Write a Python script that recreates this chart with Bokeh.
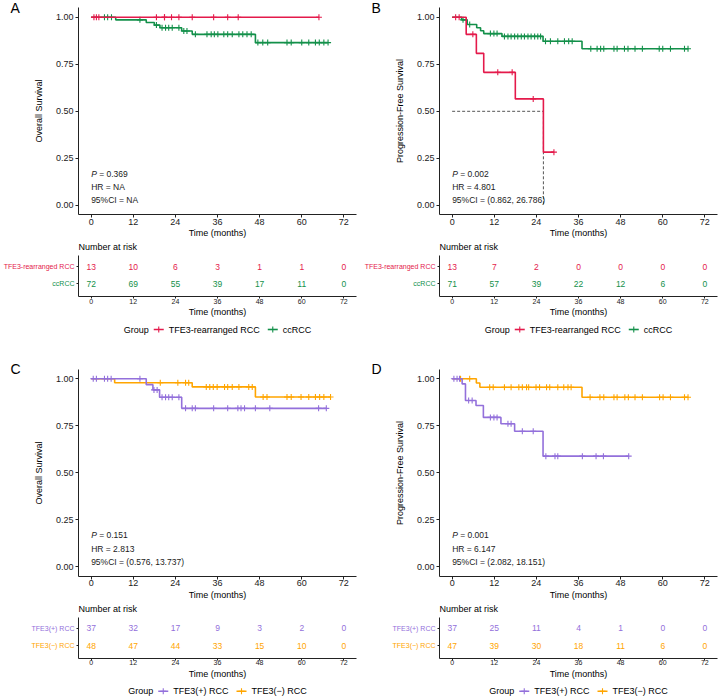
from bokeh.plotting import figure
from bokeh.models import Range1d, FixedTicker, PrintfTickFormatter
from bokeh.layouts import column, row
from bokeh.embed import file_html
from bokeh.resources import INLINE
from bokeh.core.properties import value

FONT = "Liberation Sans"
RED = "#E41A4B"
GREEN = "#13904A"
PURPLE = "#9370DB"
ORANGE = "#FFA500"

TIME_BREAKS = [0, 12, 24, 36, 48, 60, 72]
SURV_BREAKS = [0, 0.25, 0.5, 0.75, 1.0]

# ---------------- Panel A : Overall survival, TFE3-rearranged vs ccRCC
A_G1_NAME = "TFE3-rearranged RCC"
A_G1_EVT_T = []
A_G1_EVT_S = []
A_G1_END = 64.9
A_G1_CENS = [0.8, 1.5, 2.2, 18.6, 20.9, 20.9, 22.9, 25.0, 28.8, 34.9, 38.9, 41.9, 64.9]
A_G2_NAME = "ccRCC"
A_G2_EVT_T = [7.0, 15.7, 18.0, 19.6, 25.8, 28.8, 46.8]
A_G2_EVT_S = [0.986, 0.972, 0.958, 0.944, 0.927, 0.909, 0.865]
A_G2_END = 67.5
A_G2_CENS = [3.8, 4.7, 5.8, 13.9, 18.6, 20.2, 21.2, 22.1, 23.1, 25.0, 26.4, 27.3,
             29.7, 33.0, 34.2, 35.1, 36.1, 37.8, 38.9, 40.2, 42.1, 43.2, 44.4, 45.6,
             47.5, 48.9, 50.3, 55.8, 57.0, 60.0, 62.0, 63.9, 65.0, 66.3, 67.5]
A_RISK_G1 = [13, 10, 6, 3, 1, 1, 0]
A_RISK_G2 = [72, 69, 55, 39, 17, 11, 0]
A_STATS = ["= 0.369", "HR = NA", "95%CI = NA"]

# ---------------- Panel B : Progression-free survival
B_G1_EVT_T = [4.0, 6.9, 9.0, 18.0, 26.0]
B_G1_EVT_S = [0.909, 0.808, 0.707, 0.566, 0.283]
B_G1_END = 29.0
B_G1_CENS = [1.0, 2.0, 5.9, 13.0, 17.1, 23.1, 29.0]
B_G2_EVT_T = [2.7, 4.3, 7.0, 8.1, 9.0, 14.2, 25.9, 37.0]
B_G2_EVT_S = [0.986, 0.961, 0.944, 0.928, 0.913, 0.898, 0.872, 0.832]
B_G2_END = 67.3
B_G2_CENS = [3.1, 5.0, 10.9, 11.9, 12.8, 14.9, 15.9, 16.8, 17.8, 18.7, 19.7, 20.6,
             21.6, 22.5, 23.5, 24.4, 25.2, 26.6, 28.0, 30.1, 32.0, 33.2, 34.2, 39.5,
             41.3, 42.3, 43.2, 46.1, 47.0, 49.1, 50.1, 52.1, 54.2, 59.0, 60.0, 62.2,
             66.2, 67.2]
B_MEDIAN = 26.0
B_RISK_G1 = [13, 7, 2, 0, 0, 0, 0]
B_RISK_G2 = [71, 57, 39, 22, 12, 6, 0]
B_STATS = ["= 0.002", "HR = 4.801", "95%CI = (0.862, 26.786)"]

# ---------------- Panel C : Overall survival, TFE3(+) vs TFE3(-)
C_G1_NAME = "TFE3(+) RCC"
C_G1_EVT_T = [15.7, 17.6, 19.5, 25.8]
C_G1_EVT_S = [0.969, 0.941, 0.902, 0.843]
C_G1_END = 67.0
C_G1_CENS = [0.6, 1.5, 3.8, 4.7, 5.7, 13.9, 17.9, 18.8, 20.2, 21.2, 22.1, 23.1,
             25.0, 26.9, 28.8, 29.7, 34.9, 38.9, 41.8, 42.7, 43.7, 46.8, 50.9,
             64.8, 67.0]
C_G2_NAME = "TFE3(\u2212) RCC"
C_G2_EVT_T = [6.7, 28.8, 46.8]
C_G2_EVT_S = [0.979, 0.957, 0.903]
C_G2_END = 68.2
C_G2_CENS = [19.7, 24.7, 26.9, 27.8, 32.8, 33.8, 34.8, 35.9, 38.0, 38.9, 40.2,
             42.1, 44.9, 45.9, 49.0, 50.1, 55.8, 57.0, 59.8, 62.0, 63.9, 65.1,
             66.3, 68.2]
C_RISK_G1 = [37, 32, 17, 9, 3, 2, 0]
C_RISK_G2 = [48, 47, 44, 33, 15, 10, 0]
C_STATS = ["= 0.151", "HR = 2.813", "95%CI = (0.576, 13.737)"]

# ---------------- Panel D : Progression-free survival, TFE3(+) vs TFE3(-)
D_G1_EVT_T = [2.85, 3.8, 6.8, 8.9, 13.9, 17.8, 25.9]
D_G1_EVT_S = [0.973, 0.885, 0.858, 0.795, 0.761, 0.721, 0.589]
D_G1_END = 50.3
D_G1_CENS = [0.5, 1.4, 2.1, 4.7, 5.7, 10.9, 11.9, 12.8, 15.9, 16.8, 20.0, 23.1,
             26.7, 29.3, 30.1, 37.1, 41.0, 43.1, 50.3]
D_G2_EVT_T = [6.9, 7.9, 37.0]
D_G2_EVT_S = [0.978, 0.955, 0.902]
D_G2_END = 67.3
D_G2_CENS = [2.4, 5.0, 10.7, 11.7, 14.9, 16.8, 19.0, 20.0, 21.2, 21.8, 23.9, 24.9,
             26.9, 27.8, 30.1, 31.8, 33.0, 33.9, 39.3, 42.1, 43.2, 46.1, 47.0,
             49.2, 50.2, 52.1, 54.2, 59.1, 60.1, 62.2, 66.2, 67.2]
D_RISK_G1 = [37, 25, 11, 4, 1, 0, 0]
D_RISK_G2 = [47, 39, 30, 18, 11, 6, 0]
D_STATS = ["= 0.001", "HR = 6.147", "95%CI = (2.082, 18.151)"]

# ---------------- layout constants (pixels)
STATS_Y = [0.168, 0.097, 0.027]
X_LO, X_HI = -3.6, 75.6           # plotting area in months
Y_LO, Y_HI = -0.05, 1.05          # plotting area in survival
R_LO, R_HI = 0.27, 2.64           # risk table rows
PLOT_W = 278
KM_PLOT_H = 207
RISK_PLOT_H = 41
SX = PLOT_W / (X_HI - X_LO)
SY = KM_PLOT_H / (Y_HI - Y_LO)
SR = RISK_PLOT_H / (R_HI - R_LO)
TXT = "#1a1a1a"
AX = "#222222"
MARK = 6

CHAR_W = {" ": .278, "(": .333, ")": .333, "+": .584, "-": .333, "\u2212": .584,
          "A": .667, "C": .722, "E": .667, "F": .611, "G": .778, "R": .722,
          "T": .611, "a": .556, "c": .5, "d": .556, "e": .556, "g": .556,
          "n": .556, "o": .556, "p": .556, "r": .333, "u": .556}


def text_w(s, size):
    return sum(CHAR_W.get(ch, .556) for ch in s) * size


def col_geom(col):
    # figure width, left border, right border
    return (360, 78, 4) if col == 0 else (358, 79, 1)


def step_xy(ev_t, ev_s, end):
    xs = [0.0] + list(ev_t) + [end]
    last = ev_s[-1] if ev_s else 1.0
    ys = [1.0] + list(ev_s) + [last]
    return xs, ys


def surv_at(t, ev_t, ev_s):
    s = 1.0
    for tt, ss in zip(ev_t, ev_s):
        if tt <= t:
            s = ss
    return s


def base_fig(col, height, y_start, y_end):
    W, L, R = col_geom(col)
    p = figure(width=W, height=height,
               x_range=Range1d(X_LO - L / SX, X_HI + R / SX),
               y_range=Range1d(y_start, y_end),
               min_border_left=0, min_border_right=0, min_border_top=0,
               min_border_bottom=0, output_backend="svg",
               toolbar_location=None)
    p.outline_line_color = None
    p.xgrid.visible = False
    p.ygrid.visible = False
    p.background_fill_color = "white"
    p.border_fill_color = "white"
    for ax in (p.xaxis[0], p.yaxis[0]):
        ax.axis_line_color = AX
        ax.axis_line_width = 1
        ax.major_tick_line_color = AX
        ax.minor_tick_line_color = None
        ax.major_tick_in = 0
        ax.major_label_text_font = FONT
        ax.major_label_text_color = TXT
        ax.axis_label_text_font = FONT
        ax.axis_label_text_font_style = "normal"
        ax.axis_label_text_color = "black"
    p.xaxis.ticker = FixedTicker(ticks=TIME_BREAKS)
    p.xaxis.bounds = (X_LO, X_HI)
    p.yaxis.fixed_location = X_LO
    return p


def km_fig(col, H, top, letter, ylab, curves, stats, median=None):
    bottom = H - top - KM_PLOT_H
    p = base_fig(col, H, Y_LO - bottom / SY, Y_HI + top / SY)
    p.xaxis.fixed_location = Y_LO
    p.yaxis.bounds = (Y_LO, Y_HI)
    p.yaxis.ticker = FixedTicker(ticks=SURV_BREAKS)
    p.yaxis.formatter = PrintfTickFormatter(format="%.2f")
    p.xaxis.major_label_text_font_size = "9px"
    p.yaxis.major_label_text_font_size = "9px"
    p.xaxis.major_tick_out = 3
    p.yaxis.major_tick_out = 3
    p.xaxis.major_label_standoff = 1
    p.yaxis.major_label_standoff = 2
    p.xaxis.axis_label = "Time (months)"
    p.yaxis.axis_label = ylab
    p.xaxis.axis_label_text_font_size = "9px"
    p.yaxis.axis_label_text_font_size = "9px"
    p.xaxis.axis_label_standoff = 0
    p.yaxis.axis_label_standoff = 9

    if median is not None:
        p.line([0, median], [0.5, 0.5], line_color="#555555",
               line_width=1, line_dash="3 2")
        p.line([median, median], [0.5, 0.0], line_color="#555555",
               line_width=1, line_dash="3 2")

    for ev_t, ev_s, end, cens, color in reversed(curves):
        xs, ys = step_xy(ev_t, ev_s, end)
        p.step(xs, ys, mode="after", line_color=color, line_width=1.6)
        cy = [surv_at(t, ev_t, ev_s) for t in cens]
        p.scatter(cens, cy, marker="cross", size=MARK, line_color=color,
                  line_width=1.1)

    p.text(x=[0], y=[STATS_Y[0]], text=["P"], text_font=value(FONT),
           text_font_size="8.5px", text_font_style="italic",
           text_baseline="middle", text_color=TXT)
    p.text(x=[0], y=[STATS_Y[0]], text=[stats[0]], x_offset=8,
           text_font=value(FONT), text_font_size="8.5px",
           text_baseline="middle", text_color=TXT)
    p.text(x=[0, 0], y=STATS_Y[1:], text=stats[1:], text_font=value(FONT),
           text_font_size="8.5px", text_baseline="middle", text_color=TXT)

    p.text(x=[X_LO], y=[Y_HI], text=[letter], x_offset=-68,
           text_font=value(FONT), text_font_size="14px",
           text_baseline="middle", text_align="left", text_color="black")
    return p


def risk_fig(col, H, top, names, counts, colors):
    bottom = H - top - RISK_PLOT_H
    p = base_fig(col, H, R_LO - bottom / SR, R_HI + top / SR)
    p.xaxis.fixed_location = R_LO
    p.yaxis.bounds = (R_LO, R_HI)
    p.yaxis.ticker = FixedTicker(ticks=[1, 2])
    p.yaxis.major_label_text_alpha = 0
    p.yaxis.major_label_text_font_size = "7px"
    p.xaxis.major_label_text_font_size = "7px"
    p.xaxis.major_tick_out = 2
    p.yaxis.major_tick_out = 2
    p.xaxis.major_label_standoff = 0
    p.xaxis.axis_label = "Time (months)"
    p.xaxis.axis_label_text_font_size = "9px"
    p.xaxis.axis_label_standoff = 0

    rows = [2, 1]
    for yv, name, cnt, color in zip(rows, names, counts, colors):
        p.text(x=TIME_BREAKS, y=[yv] * len(TIME_BREAKS),
               text=[str(c) for c in cnt], text_font=value(FONT),
               text_font_size="8.5px", text_align="center",
               text_baseline="middle", text_color=color)
        p.text(x=[X_LO], y=[yv], text=[name], x_offset=-4,
               text_font=value(FONT), text_font_size="7px",
               text_align="right", text_baseline="middle", text_color=color)
    p.text(x=[X_LO], y=[R_HI + 8.3 / SR], text=["Number at risk"],
           text_font=value(FONT), text_font_size="9px",
           text_baseline="middle", text_align="left", text_color="black")

    # legend row: "Group  -+- name1  -+- name2", centred under the plot area
    fs = 9
    gw = text_w("Group", fs)
    w1, w2 = text_w(names[0], fs), text_w(names[1], fs)
    key_w, gap_t, gap_i = 10, 5, 8
    total = gw + gap_t + key_w + gap_t + w1 + gap_i + key_w + gap_t + w2
    start = -total / 2
    k1 = start + gw + gap_t + key_w / 2
    t1 = k1 + key_w / 2 + gap_t
    k2 = t1 + w1 + gap_i + key_w / 2
    t2 = k2 + key_w / 2 + gap_t
    cx = (X_LO + X_HI) / 2
    ly = R_LO - 33 / SR
    p.text(x=[cx, cx, cx], y=[ly] * 3, text=["Group", names[0], names[1]],
           x_offset=[start, t1, t2], text_font=value(FONT),
           text_font_size="9px", text_baseline="middle", text_align="left",
           text_color="black")
    for kc, color in ((k1, colors[0]), (k2, colors[1])):
        p.segment(x0=[cx + (kc - key_w / 2) / SX], y0=[ly],
                  x1=[cx + (kc + key_w / 2) / SX], y1=[ly],
                  line_color=color, line_width=1.6)
        p.scatter(x=[cx + kc / SX], y=[ly], marker="cross", size=MARK,
                  line_color=color, line_width=1.1)
    return p


kmA = km_fig(0, 240, 7.3, "A", "Overall Survival",
             [(A_G1_EVT_T, A_G1_EVT_S, A_G1_END, A_G1_CENS, RED),
              (A_G2_EVT_T, A_G2_EVT_S, A_G2_END, A_G2_CENS, GREEN)], A_STATS)
kmB = km_fig(1, 240, 7.3, "B", "Progression-Free Survival",
             [(B_G1_EVT_T, B_G1_EVT_S, B_G1_END, B_G1_CENS, RED),
              (B_G2_EVT_T, B_G2_EVT_S, B_G2_END, B_G2_CENS, GREEN)], B_STATS,
             median=B_MEDIAN)
kmC = km_fig(0, 250, 18.9, "C", "Overall Survival",
             [(C_G1_EVT_T, C_G1_EVT_S, C_G1_END, C_G1_CENS, PURPLE),
              (C_G2_EVT_T, C_G2_EVT_S, C_G2_END, C_G2_CENS, ORANGE)], C_STATS)
kmD = km_fig(1, 250, 18.9, "D", "Progression-Free Survival",
             [(D_G1_EVT_T, D_G1_EVT_S, D_G1_END, D_G1_CENS, PURPLE),
              (D_G2_EVT_T, D_G2_EVT_S, D_G2_END, D_G2_CENS, ORANGE)], D_STATS)

rkA = risk_fig(0, 110, 15, [A_G1_NAME, A_G2_NAME], [A_RISK_G1, A_RISK_G2],
               [RED, GREEN])
rkB = risk_fig(1, 110, 15, [A_G1_NAME, A_G2_NAME], [B_RISK_G1, B_RISK_G2],
               [RED, GREEN])
rkC = risk_fig(0, 96, 16.7, [C_G1_NAME, C_G2_NAME], [C_RISK_G1, C_RISK_G2],
               [PURPLE, ORANGE])
rkD = risk_fig(1, 96, 16.7, [C_G1_NAME, C_G2_NAME], [D_RISK_G1, D_RISK_G2],
               [PURPLE, ORANGE])

layout = column(row(column(kmA, rkA), column(kmB, rkB)),
                row(column(kmC, rkC), column(kmD, rkD)))

open("out.html", "w").write(file_html(layout, INLINE))
